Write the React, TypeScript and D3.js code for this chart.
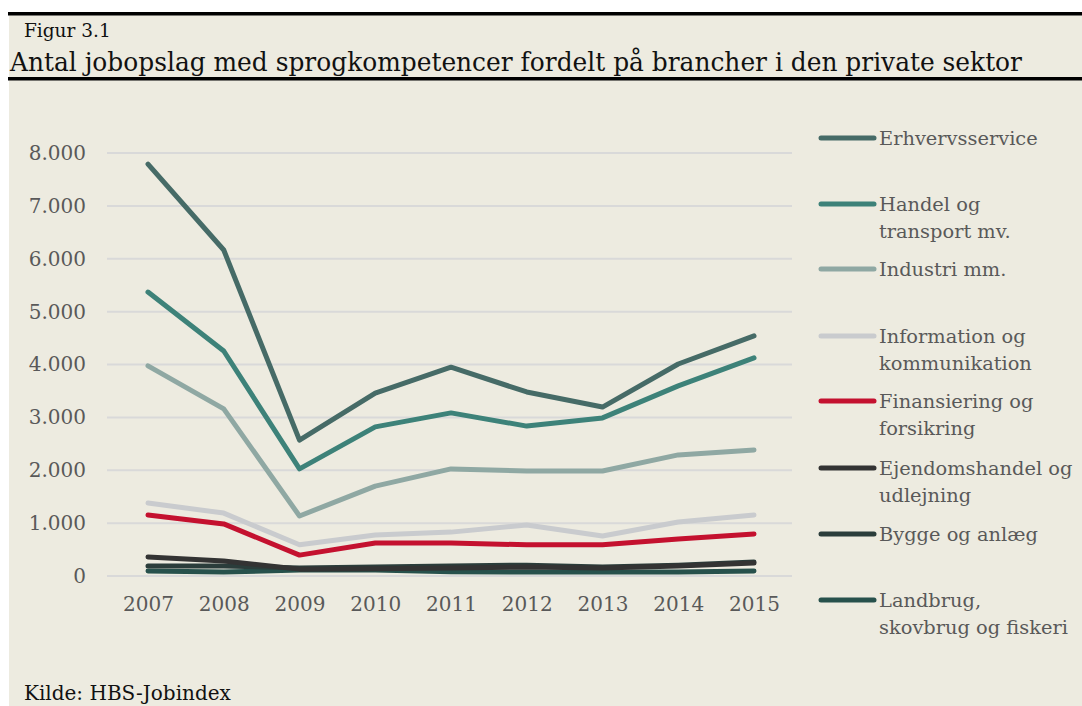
import React, { useEffect, useRef } from 'react';
import * as d3 from 'd3';

// Data
const years = [2007, 2008, 2009, 2010, 2011, 2012, 2013, 2014, 2015];
const yTicks = [0, 1000, 2000, 3000, 4000, 5000, 6000, 7000, 8000];

const erhvervsservice = [7790, 6165, 2570, 3460, 3950, 3480, 3195, 4010, 4540];
const handel = [5370, 4255, 2025, 2820, 3085, 2835, 2990, 3595, 4125];
const industri = [3975, 3160, 1135, 1700, 2025, 1985, 1985, 2290, 2385];
const information = [1380, 1190, 590, 775, 830, 965, 755, 1020, 1155];
const finansiering = [1155, 985, 395, 625, 625, 590, 590, 700, 795];
const ejendomshandel = [360, 285, 130, 135, 150, 170, 150, 190, 245];
const bygge = [190, 190, 150, 170, 190, 205, 170, 205, 265];
const landbrug = [95, 75, 115, 115, 80, 75, 75, 75, 95];

const seriesNames = [
  ['Erhvervsservice'],
  ['Handel og', 'transport mv.'],
  ['Industri mm.'],
  ['Information og', 'kommunikation'],
  ['Finansiering og', 'forsikring'],
  ['Ejendomshandel og', 'udlejning'],
  ['Bygge og anlæg'],
  ['Landbrug,', 'skovbrug og fiskeri'],
];
const seriesValues = [erhvervsservice, handel, industri, information, finansiering, ejendomshandel, bygge, landbrug];
const seriesColors = ['#466b67', '#3d8279', '#8fa8a3', '#c9cbce', '#c4112f', '#333333', '#2b3d3b', '#27514c'];
// legend row tops (first line centre)
const legendRows = [138, 204, 269, 336, 401, 468, 534, 600];

const W = 1082;
const H = 706;
const FONT = '"DejaVu Serif", serif';

const App = () => {
  const ref = useRef<SVGSVGElement>(null);

  useEffect(() => {
    const svg = d3.select(ref.current);
    svg.selectAll('*').remove();

    // background and frame
    svg.append('rect').attr('width', W).attr('height', H).attr('fill', '#ffffff');
    svg.append('rect').attr('x', 9).attr('y', 13).attr('width', W - 9).attr('height', H - 13).attr('fill', '#edebe0');
    svg.append('rect').attr('x', 8).attr('y', 12).attr('width', W - 8).attr('height', 3.5).attr('fill', '#000');
    svg.append('rect').attr('x', 8).attr('y', 77).attr('width', W - 8).attr('height', 3.5).attr('fill', '#000');

    svg.append('text').attr('x', 24).attr('y', 37).attr('font-family', FONT).attr('font-size', 18.5)
      .attr('fill', '#111').text('Figur 3.1');
    svg.append('text').attr('x', 10).attr('y', 71).attr('font-family', FONT).attr('font-size', 26)
      .attr('fill', '#111').attr('textLength', 1012).attr('lengthAdjust', 'spacingAndGlyphs')
      .text('Antal jobopslag med sprogkompetencer fordelt på brancher i den private sektor');
    svg.append('text').attr('x', 24).attr('y', 700).attr('font-family', FONT).attr('font-size', 20)
      .attr('fill', '#111').text('Kilde: HBS-Jobindex');

    const x = d3.scalePoint<number>().domain(years).range([148, 754]);
    const y = d3.scaleLinear().domain([0, 8000]).range([576, 153]);

    // grid
    svg.append('g').selectAll('line').data(yTicks).join('line')
      .attr('x1', 107).attr('x2', 792)
      .attr('y1', (d) => y(d)).attr('y2', (d) => y(d))
      .attr('stroke', '#d9d9d9').attr('stroke-width', 2);

    // axes labels
    const fmt = (d: number) => d3.format(',')(d).replace(/,/g, '.');
    const yAxis = svg.append('g').attr('transform', 'translate(86,0)')
      .call(d3.axisLeft(y).tickValues(yTicks).tickSize(0).tickPadding(0).tickFormat((d) => fmt(d as number)));
    yAxis.select('.domain').remove();
    yAxis.selectAll('text').attr('font-family', FONT).attr('font-size', 20).attr('fill', '#595959');

    const xAxis = svg.append('g').attr('transform', 'translate(0,597)')
      .call(d3.axisBottom(x).tickSize(0).tickPadding(0));
    xAxis.select('.domain').remove();
    xAxis.selectAll('text').attr('font-family', FONT).attr('font-size', 20).attr('fill', '#595959');

    // lines, drawn from last to first so top series on top
    const line = d3.line<number>().x((_, i) => x(years[i]) as number).y((d) => y(d));
    const order = [7, 6, 5, 3, 4, 2, 1, 0];
    order.forEach((k) => {
      svg.append('path').datum(seriesValues[k]).attr('d', line)
        .attr('fill', 'none').attr('stroke', seriesColors[k]).attr('stroke-width', 5)
        .attr('stroke-linecap', 'round').attr('stroke-linejoin', 'round');
    });

    // legend
    seriesNames.forEach((lines, k) => {
      const cy = legendRows[k];
      svg.append('line').attr('x1', 821).attr('x2', 874).attr('y1', cy).attr('y2', cy)
        .attr('stroke', seriesColors[k]).attr('stroke-width', 5).attr('stroke-linecap', 'round');
      lines.forEach((t, j) => {
        svg.append('text').attr('x', 879).attr('y', cy + 7 + j * 27).attr('font-family', FONT)
          .attr('font-size', 19.4).attr('fill', '#595959').text(t);
      });
    });
  }, []);

  return <svg ref={ref} width={W} height={H} style={{ position: 'absolute', left: 0, top: 0 }} />;
};

export default App;
